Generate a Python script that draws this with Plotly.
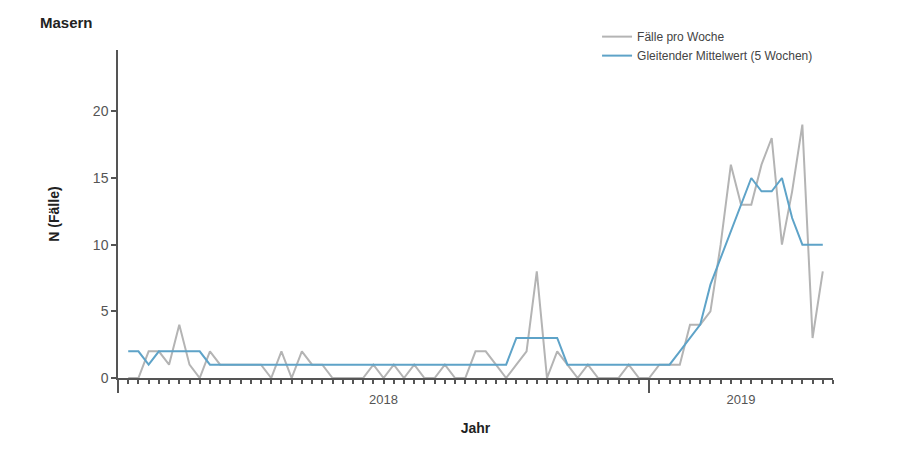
import plotly.graph_objects as go

# Weekly index (0 = first plotted week of 2018)
weeks = list(range(69))
cases = [0, 0, 2, 2, 1, 4, 1, 0, 2, 1,
         1, 1, 1, 1, 0, 2, 0, 2, 1, 1,
         0, 0, 0, 0, 1, 0, 1, 0, 1, 0,
         0, 1, 0, 0, 2, 2, 1, 0, 1, 2,
         8, 0, 2, 1, 0, 1, 0, 0, 0, 1,
         0, 0, 1, 1, 1, 4, 4, 5, 10, 16,
         13, 13, 16, 18, 10, 14, 19, 3, 8]
moving_avg = [2, 2, 1, 2, 2, 2, 2, 2, 1, 1,
              1, 1, 1, 1, 1, 1, 1, 1, 1, 1,
              1, 1, 1, 1, 1, 1, 1, 1, 1, 1,
              1, 1, 1, 1, 1, 1, 1, 1, 3, 3,
              3, 3, 3, 1, 1, 1, 1, 1, 1, 1,
              1, 1, 1, 1, 2, 3, 4, 7, 9, 11,
              13, 15, 14, 14, 15, 12, 10, 10, 10]
year_labels = ["2018", "2019"]
year_label_pos = [25, 60]
year_bounds = [-1, 51]
x_range = [-1, 69]

axis_color = "#555555"
font_fam = "Liberation Sans Narrow, Arial Narrow, Liberation Sans, Arial, sans-serif"

fig = go.Figure()
fig.add_trace(go.Scatter(x=weeks, y=cases, mode="lines", name="Fälle pro Woche",
                         line=dict(color="#b4b4b4", width=2)))
fig.add_trace(go.Scatter(x=weeks, y=moving_avg, mode="lines",
                         name="Gleitender Mittelwert (5 Wochen)",
                         line=dict(color="#5ea3c8", width=2)))
# dummy traces to activate overlay axes
fig.add_trace(go.Scatter(x=[None], y=[None], xaxis="x2", showlegend=False, hoverinfo="skip"))
fig.add_trace(go.Scatter(x=[None], y=[None], xaxis="x3", showlegend=False, hoverinfo="skip"))

fig.update_layout(
    width=900, height=450,
    margin=dict(l=118, r=67, t=50, b=72),
    plot_bgcolor="white", paper_bgcolor="white",
    font=dict(family=font_fam, color="#555555", size=13),
    title=dict(text="<b>Masern</b>", xref="container", yref="container",
               x=40/900, xanchor="left", y=1-23/450, yanchor="middle",
               font=dict(family="Liberation Sans, Arial, sans-serif", size=15, color="#222222")),
    xaxis=dict(range=x_range, tickmode="array", tickvals=list(range(-1, 70)),
               ticktext=[""] * 71, ticks="outside", ticklen=4, tickwidth=1.5,
               tickcolor=axis_color, showline=True, linecolor=axis_color, linewidth=1.5,
               showgrid=False, zeroline=False,
               title=dict(text="<b>Jahr</b>", standoff=38,
                          font=dict(family="Liberation Sans, Arial, sans-serif", size=14, color="#222222"))),
    xaxis2=dict(range=x_range, overlaying="x", anchor="y", side="bottom",
                tickmode="array", tickvals=year_bounds, ticktext=["", ""],
                ticks="outside", ticklen=14, tickwidth=1.5, tickcolor=axis_color,
                showline=False, showgrid=False, zeroline=False),
    xaxis3=dict(range=x_range, overlaying="x", anchor="y", side="bottom",
                tickmode="array", tickvals=year_label_pos, ticktext=year_labels,
                ticks="", ticklabelstandoff=12, showline=False, showgrid=False, zeroline=False,
                tickfont=dict(size=13, color="#555555")),
    yaxis=dict(range=[0, 24.6], tickvals=[0, 5, 10, 15, 20], ticks="outside", ticklen=5,
               tickwidth=1.5, tickcolor=axis_color, showline=True, linecolor=axis_color,
               linewidth=1.5, showgrid=False, zeroline=False,
               tickfont=dict(size=14, color="#555555"),
               title=dict(text="<b>N (Fälle)</b>", standoff=30,
                          font=dict(family="Liberation Sans, Arial, sans-serif", size=14, color="#222222"))),
    legend=dict(x=0.67, y=1.085, xanchor="left", yanchor="top", bgcolor="rgba(0,0,0,0)",
                font=dict(size=12, color="#444444"), tracegroupgap=0),
)

fig.write_html("out.html")
